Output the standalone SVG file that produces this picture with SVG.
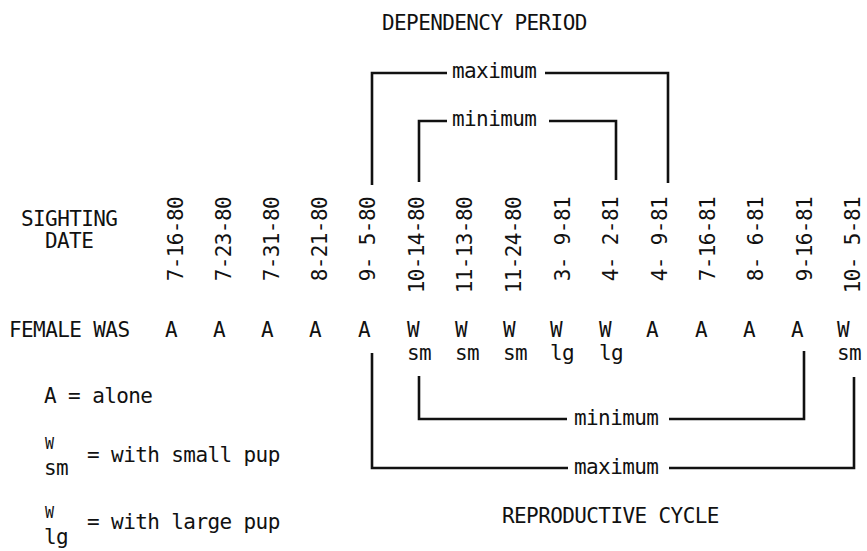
<svg xmlns="http://www.w3.org/2000/svg" width="867" height="551" viewBox="0 0 867 551">
<style>
text{font-family:"DejaVu Sans Mono","Liberation Mono",monospace;font-size:21px;letter-spacing:-0.6px;fill:#111}
.c{text-anchor:middle}
.d{text-anchor:end}
.sw{font-size:15px;letter-spacing:0}
.br{fill:none;stroke:#111;stroke-width:2.6;stroke-linejoin:miter;stroke-linecap:butt}
</style>
<rect width="867" height="551" fill="#fff"/>
<g id="titles">
<text x="382" y="30">DEPENDENCY PERIOD</text>
<text x="502" y="523">REPRODUCTIVE CYCLE</text>
</g>
<g id="row-labels">
<text x="21" y="226">SIGHTING</text>
<text x="45" y="248">DATE</text>
<text x="9" y="337">FEMALE WAS</text>
</g>
<g id="dates" class="d">
<text class="d" transform="translate(183,197) rotate(-90)">7-16-80</text>
<text class="d" transform="translate(231,197) rotate(-90)">7-23-80</text>
<text class="d" transform="translate(279,197) rotate(-90)">7-31-80</text>
<text class="d" transform="translate(327,197) rotate(-90)">8-21-80</text>
<text class="d" transform="translate(375,197) rotate(-90)">9- 5-80</text>
<text class="d" transform="translate(423.5,197) rotate(-90)">10-14-80</text>
<text class="d" transform="translate(472,197) rotate(-90)">11-13-80</text>
<text class="d" transform="translate(521,197) rotate(-90)">11-24-80</text>
<text class="d" transform="translate(570,197) rotate(-90)">3- 9-81</text>
<text class="d" transform="translate(618,197) rotate(-90)">4- 2-81</text>
<text class="d" transform="translate(667,197) rotate(-90)">4- 9-81</text>
<text class="d" transform="translate(715,197) rotate(-90)">7-16-81</text>
<text class="d" transform="translate(763,197) rotate(-90)">8- 6-81</text>
<text class="d" transform="translate(812,197) rotate(-90)">9-16-81</text>
<text class="d" transform="translate(860,197) rotate(-90)">10- 5-81</text>
</g>
<g id="status">
<text class="c" x="171" y="337">A</text>
<text class="c" x="219" y="337">A</text>
<text class="c" x="267" y="337">A</text>
<text class="c" x="315" y="337">A</text>
<text class="c" x="364" y="337">A</text>
<text class="c" x="413" y="337">W</text>
<text class="c" x="461" y="337">W</text>
<text class="c" x="509" y="337">W</text>
<text class="c" x="556" y="337">W</text>
<text class="c" x="605" y="337">W</text>
<text class="c" x="652" y="337">A</text>
<text class="c" x="701" y="337">A</text>
<text class="c" x="749" y="337">A</text>
<text class="c" x="797" y="337">A</text>
<text class="c" x="843" y="337">W</text>
<text x="407" y="360">sm</text>
<text x="455" y="360">sm</text>
<text x="503" y="360">sm</text>
<text x="550" y="360">lg</text>
<text x="599" y="360">lg</text>
<text x="837" y="360">sm</text>
</g>
<g id="legend">
<text x="44" y="403">A = alone</text>
<text class="sw" x="45" y="449">W</text>
<text x="44" y="475">sm</text>
<text x="87" y="462">= with small pup</text>
<text class="sw" x="45" y="518">W</text>
<text x="44" y="544">lg</text>
<text x="87" y="529">= with large pup</text>
</g>
<g id="bracket-labels">
<text x="452" y="78">maximum</text>
<text x="452" y="126">minimum</text>
<text x="574" y="425">minimum</text>
<text x="574" y="474">maximum</text>
</g>
<g id="connectors" class="br">
<path class="br" d="M372,185 V73 H447 M545,73 H668 V183"/>
<path class="br" d="M419,182 V121 H447 M549,121 H616 V180"/>
<path class="br" d="M419,376 V419 H567 M669,419 H804 V351"/>
<path class="br" d="M372,353 V468 H568 M669,468 H854 V377"/>
</g>
</svg>
